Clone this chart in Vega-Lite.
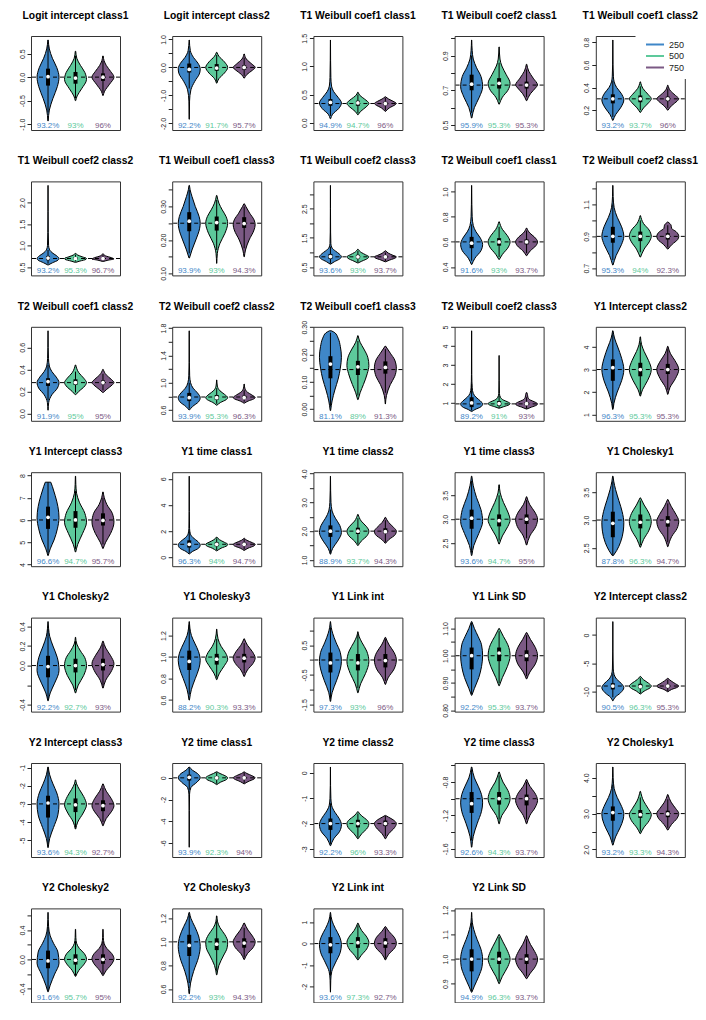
{
  "$schema": "https://vega.github.io/schema/vega-lite/v6.json",
  "padding": {"left": 17, "top": 10, "right": 0, "bottom": 0},
  "background": "white",
  "data": {
    "values": "k,p,n,y,d,lo,q1,md,q3,hi,lab\nt,1,,0\nv,1,250,-0.93,.02\nv,1,250,-0.7,.12\nv,1,250,-0.45,.45\nv,1,250,-0.2,.85\nv,1,250,0,1\nv,1,250,0.2,.8\nv,1,250,0.4,.4\nv,1,250,0.6,.12\nv,1,250,0.79,.02\ns,1,250,-1.04,,-0.75,-0.18,0.01,0.18,0.7,93.2%\nv,1,500,-0.5,.02\nv,1,500,-0.4,.15\nv,1,500,-0.25,.55\nv,1,500,-0.05,1\nv,1,500,0.1,.85\nv,1,500,0.25,.45\nv,1,500,0.4,.12\nv,1,500,0.55,.02\ns,1,500,-1.04,,-0.45,-0.14,-0.02,0.11,0.45,93%\nv,1,750,-0.39,.02\nv,1,750,-0.3,.15\nv,1,750,-0.15,.6\nv,1,750,0,1\nv,1,750,0.12,.7\nv,1,750,0.25,.3\nv,1,750,0.35,.1\nv,1,750,0.45,.02\ns,1,750,-1.04,,-0.33,-0.08,0,0.08,0.35,96%\nt,2,,0\nv,2,250,-1.85,.01\nv,2,250,-1.2,.03\nv,2,250,-0.8,.15\nv,2,250,-0.5,.5\nv,2,250,-0.2,.95\nv,2,250,-0.05,1\nv,2,250,0.15,.8\nv,2,250,0.35,.4\nv,2,250,0.6,.1\nv,2,250,0.98,.01\ns,2,250,-2.09,,-0.75,-0.18,-0.07,0.14,0.6,92.2%\nv,2,500,-0.56,.02\nv,2,500,-0.4,.2\nv,2,500,-0.2,.7\nv,2,500,0,1\nv,2,500,0.2,.7\nv,2,500,0.4,.2\nv,2,500,0.54,.02\ns,2,500,-2.09,,-0.5,-0.12,-0.02,0.12,0.45,91.7%\nv,2,750,-0.38,.02\nv,2,750,-0.25,.25\nv,2,750,-0.1,.75\nv,2,750,0,1\nv,2,750,0.12,.7\nv,2,750,0.3,.2\nv,2,750,0.48,.02\ns,2,750,-2.09,,-0.3,-0.08,0,0.08,0.35,95.7%\nt,3,,0.34\nv,3,250,0.07,.02\nv,3,250,0.15,.2\nv,3,250,0.25,.75\nv,3,250,0.35,1\nv,3,250,0.45,.7\nv,3,250,0.55,.3\nv,3,250,0.65,.1\nv,3,250,0.8,.04\nv,3,250,1.1,.015\nv,3,250,1.47,.005\ns,3,250,-0.06,,0.12,0.3,0.36,0.42,0.62,94.9%\nv,3,500,0.14,.02\nv,3,500,0.2,.25\nv,3,500,0.28,.75\nv,3,500,0.34,1\nv,3,500,0.42,.6\nv,3,500,0.48,.2\nv,3,500,0.54,.02\ns,3,500,-0.06,,0.17,0.3,0.35,0.39,0.5,94.7%\nv,3,750,0.2,.02\nv,3,750,0.26,.35\nv,3,750,0.32,.9\nv,3,750,0.34,1\nv,3,750,0.38,.7\nv,3,750,0.42,.3\nv,3,750,0.46,.02\ns,3,750,-0.06,,0.22,0.31,0.34,0.37,0.44,96%\nt,4,,0.73\nv,4,250,0.54,.02\nv,4,250,0.6,.25\nv,4,250,0.66,.7\nv,4,250,0.72,1\nv,4,250,0.78,.85\nv,4,250,0.83,.45\nv,4,250,0.88,.15\nv,4,250,0.93,.05\nv,4,250,0.99,.01\ns,4,250,0.494,,0.57,0.7,0.735,0.79,0.9,95.9%\nv,4,500,0.62,.02\nv,4,500,0.66,.3\nv,4,500,0.7,.8\nv,4,500,0.74,1\nv,4,500,0.79,.65\nv,4,500,0.84,.25\nv,4,500,0.88,.08\nv,4,500,0.95,.01\ns,4,500,0.494,,0.64,0.71,0.74,0.77,0.86,95.3%\nv,4,750,0.64,.02\nv,4,750,0.68,.35\nv,4,750,0.72,.9\nv,4,750,0.73,1\nv,4,750,0.77,.6\nv,4,750,0.81,.2\nv,4,750,0.85,.02\ns,4,750,0.494,,0.66,0.71,0.73,0.75,0.82,95.3%\nt,5,,0.3\nv,5,250,0.11,.02\nv,5,250,0.16,.25\nv,5,250,0.22,.7\nv,5,250,0.29,1\nv,5,250,0.35,.75\nv,5,250,0.4,.35\nv,5,250,0.45,.12\nv,5,250,0.5,.05\nv,5,250,0.6,.02\nv,5,250,0.82,.005\ns,5,250,0.06,,0.14,0.26,0.3,0.34,0.46,93.2%\nv,5,500,0.18,.02\nv,5,500,0.22,.3\nv,5,500,0.27,.8\nv,5,500,0.3,1\nv,5,500,0.34,.7\nv,5,500,0.39,.25\nv,5,500,0.45,.02\ns,5,500,0.06,,0.2,0.27,0.3,0.33,0.41,93.7%\nv,5,750,0.2,.02\nv,5,750,0.24,.35\nv,5,750,0.28,.85\nv,5,750,0.3,1\nv,5,750,0.33,.7\nv,5,750,0.37,.25\nv,5,750,0.42,.02\ns,5,750,0.06,,0.22,0.28,0.3,0.32,0.39,96%\nt,6,,0.7\nv,6,250,0.55,.02\nv,6,250,0.6,.4\nv,6,250,0.66,.9\nv,6,250,0.7,1\nv,6,250,0.76,.8\nv,6,250,0.82,.45\nv,6,250,0.9,.15\nv,6,250,1.0,.05\nv,6,250,1.3,.02\nv,6,250,1.8,.008\nv,6,250,2.4,.003\ns,6,250,0.4,,0.58,0.66,0.71,0.76,0.9,93.2%\nv,6,500,0.61,.02\nv,6,500,0.64,.4\nv,6,500,0.68,.95\nv,6,500,0.7,1\nv,6,500,0.74,.6\nv,6,500,0.78,.2\nv,6,500,0.82,.02\ns,6,500,0.4,,0.63,0.68,0.7,0.73,0.79,95.3%\nv,6,750,0.63,.02\nv,6,750,0.66,.45\nv,6,750,0.69,1\nv,6,750,0.72,.75\nv,6,750,0.76,.25\nv,6,750,0.81,.02\ns,6,750,0.4,,0.65,0.68,0.7,0.72,0.78,96.7%\nt,7,,0.25\nv,7,250,0.146,.02\nv,7,250,0.17,.25\nv,7,250,0.2,.6\nv,7,250,0.235,.95\nv,7,250,0.25,1\nv,7,250,0.27,.9\nv,7,250,0.3,.55\nv,7,250,0.33,.25\nv,7,250,0.35,.08\nv,7,250,0.363,.02\ns,7,250,0.106,,0.16,0.226,0.256,0.283,0.35,93.9%\nv,7,500,0.13,.01\nv,7,500,0.16,.06\nv,7,500,0.19,.3\nv,7,500,0.22,.75\nv,7,500,0.25,1\nv,7,500,0.27,.85\nv,7,500,0.29,.5\nv,7,500,0.31,.2\nv,7,500,0.333,.02\ns,7,500,0.106,,0.17,0.228,0.252,0.27,0.32,93%\nv,7,750,0.15,.02\nv,7,750,0.17,.12\nv,7,750,0.2,.45\nv,7,750,0.23,.9\nv,7,750,0.245,1\nv,7,750,0.26,.9\nv,7,750,0.28,.5\nv,7,750,0.3,.15\nv,7,750,0.308,.02\ns,7,750,0.106,,0.175,0.236,0.249,0.268,0.3,94.3%\nt,8,,0.85\nv,8,250,0.6,.02\nv,8,250,0.68,.35\nv,8,250,0.78,.85\nv,8,250,0.85,1\nv,8,250,0.95,.8\nv,8,250,1.05,.45\nv,8,250,1.15,.15\nv,8,250,1.3,.04\nv,8,250,1.7,.015\nv,8,250,2.5,.006\nv,8,250,3.3,.003\ns,8,250,0.35,,0.62,0.78,0.86,0.95,1.2,93.6%\nv,8,500,0.64,.02\nv,8,500,0.7,.35\nv,8,500,0.8,.9\nv,8,500,0.85,1\nv,8,500,0.92,.7\nv,8,500,1.0,.3\nv,8,500,1.11,.02\ns,8,500,0.35,,0.66,0.79,0.85,0.92,1.05,93%\nv,8,750,0.68,.02\nv,8,750,0.74,.4\nv,8,750,0.82,.95\nv,8,750,0.85,1\nv,8,750,0.9,.7\nv,8,750,0.97,.3\nv,8,750,1.06,.02\ns,8,750,0.35,,0.7,0.8,0.85,0.9,1.0,93.7%\nt,9,,0.6\nv,9,250,0.42,.02\nv,9,250,0.47,.3\nv,9,250,0.53,.85\nv,9,250,0.58,1\nv,9,250,0.63,.8\nv,9,250,0.68,.4\nv,9,250,0.73,.15\nv,9,250,0.8,.05\nv,9,250,0.9,.02\nv,9,250,1.05,.005\ns,9,250,0.365,,0.45,0.55,0.59,0.64,0.74,91.6%\nv,9,500,0.46,.02\nv,9,500,0.5,.3\nv,9,500,0.56,.85\nv,9,500,0.6,1\nv,9,500,0.65,.75\nv,9,500,0.7,.3\nv,9,500,0.76,.02\ns,9,500,0.365,,0.48,0.57,0.6,0.63,0.72,93%\nv,9,750,0.49,.02\nv,9,750,0.53,.35\nv,9,750,0.57,.85\nv,9,750,0.6,1\nv,9,750,0.64,.7\nv,9,750,0.67,.3\nv,9,750,0.71,.02\ns,9,750,0.365,,0.51,0.58,0.6,0.62,0.69,93.7%\nt,10,,0.9\nv,10,250,0.72,.02\nv,10,250,0.78,.3\nv,10,250,0.85,.8\nv,10,250,0.9,1\nv,10,250,0.96,.8\nv,10,250,1.02,.4\nv,10,250,1.08,.12\nv,10,250,1.15,.03\nv,10,250,1.22,.01\ns,10,250,0.68,,0.75,0.86,0.9,0.96,1.1,95.3%\nv,10,500,0.77,.02\nv,10,500,0.82,.35\nv,10,500,0.87,.85\nv,10,500,0.9,1\nv,10,500,0.94,.8\nv,10,500,0.98,.3\nv,10,500,1.03,.02\ns,10,500,0.68,,0.8,0.87,0.9,0.93,1.0,94%\nv,10,750,0.82,.02\nv,10,750,0.85,.4\nv,10,750,0.88,.9\nv,10,750,0.9,1\nv,10,750,0.93,.75\nv,10,750,0.95,.35\nv,10,750,0.97,.3\nv,10,750,0.99,.02\ns,10,750,0.68,,0.83,0.88,0.9,0.92,0.97,92.3%\nt,11,,0.28\nv,11,250,0.03,.01\nv,11,250,0.1,.06\nv,11,250,0.17,.35\nv,11,250,0.23,.85\nv,11,250,0.28,1\nv,11,250,0.33,.75\nv,11,250,0.38,.35\nv,11,250,0.43,.12\nv,11,250,0.5,.04\nv,11,250,0.6,.015\nv,11,250,0.75,.005\ns,11,250,-0.03,,0.12,0.25,0.29,0.32,0.44,91.9%\nv,11,500,0.17,.02\nv,11,500,0.2,.3\nv,11,500,0.25,.85\nv,11,500,0.28,1\nv,11,500,0.32,.75\nv,11,500,0.37,.3\nv,11,500,0.44,.02\ns,11,500,-0.03,,0.19,0.26,0.28,0.31,0.38,95%\nv,11,750,0.19,.02\nv,11,750,0.22,.35\nv,11,750,0.26,.85\nv,11,750,0.28,1\nv,11,750,0.31,.75\nv,11,750,0.35,.3\nv,11,750,0.4,.02\ns,11,750,-0.03,,0.21,0.265,0.28,0.3,0.36,95%\nt,12,,0.79\nv,12,250,0.6,.02\nv,12,250,0.65,.3\nv,12,250,0.72,.85\nv,12,250,0.78,1\nv,12,250,0.85,.75\nv,12,250,0.92,.35\nv,12,250,1.0,.12\nv,12,250,1.1,.04\nv,12,250,1.3,.015\nv,12,250,1.76,.004\ns,12,250,0.5,,0.62,0.73,0.78,0.85,1.0,93.9%\nv,12,500,0.67,.02\nv,12,500,0.71,.35\nv,12,500,0.75,.85\nv,12,500,0.78,1\nv,12,500,0.83,.7\nv,12,500,0.88,.3\nv,12,500,0.95,.06\nv,12,500,1.04,.01\ns,12,500,0.5,,0.69,0.75,0.78,0.82,0.92,95.3%\nv,12,750,0.7,.02\nv,12,750,0.73,.35\nv,12,750,0.76,.85\nv,12,750,0.78,1\nv,12,750,0.82,.7\nv,12,750,0.86,.3\nv,12,750,0.92,.06\nv,12,750,0.98,.01\ns,12,750,0.5,,0.72,0.76,0.78,0.81,0.89,96.3%\nt,13,,0.145\nv,13,250,-0.005,.02\nv,13,250,0.03,.15\nv,13,250,0.07,.4\nv,13,250,0.11,.7\nv,13,250,0.15,.9\nv,13,250,0.19,1\nv,13,250,0.23,.9\nv,13,250,0.26,.7\nv,13,250,0.28,.4\nv,13,250,0.287,.08\ns,13,250,-0.028,,0.01,0.113,0.165,0.194,0.28,81.1%\nv,13,500,0.035,.02\nv,13,500,0.06,.2\nv,13,500,0.09,.5\nv,13,500,0.13,.85\nv,13,500,0.16,1\nv,13,500,0.19,.9\nv,13,500,0.22,.55\nv,13,500,0.245,.2\nv,13,500,0.269,.02\ns,13,500,-0.028,,0.05,0.125,0.155,0.177,0.25,89%\nv,13,750,0.019,.01\nv,13,750,0.05,.1\nv,13,750,0.09,.45\nv,13,750,0.12,.85\nv,13,750,0.15,1\nv,13,750,0.18,.85\nv,13,750,0.205,.45\nv,13,750,0.231,.02\ns,13,750,-0.028,,0.06,0.13,0.153,0.175,0.22,91.3%\nt,14,,0.95\nv,14,250,0.55,.02\nv,14,250,0.65,.3\nv,14,250,0.8,.85\nv,14,250,0.95,1\nv,14,250,1.1,.8\nv,14,250,1.3,.4\nv,14,250,1.5,.15\nv,14,250,1.8,.05\nv,14,250,2.5,.015\nv,14,250,4.8,.004\ns,14,250,0.27,,0.6,0.78,1.0,1.3,2.0,89.2%\nv,14,500,0.72,.02\nv,14,500,0.8,.4\nv,14,500,0.9,.9\nv,14,500,0.97,1\nv,14,500,1.05,.8\nv,14,500,1.15,.4\nv,14,500,1.3,.12\nv,14,500,1.5,.03\nv,14,500,2.2,.01\nv,14,500,3.5,.004\ns,14,500,0.27,,0.73,0.85,0.97,1.1,1.4,91%\nv,14,750,0.68,.02\nv,14,750,0.78,.45\nv,14,750,0.88,.9\nv,14,750,0.95,1\nv,14,750,1.05,.75\nv,14,750,1.15,.35\nv,14,750,1.3,.12\nv,14,750,1.45,.08\nv,14,750,1.55,.02\ns,14,750,0.27,,0.7,0.88,0.96,1.05,1.3,93%\nt,15,,3\nv,15,250,1.23,.02\nv,15,250,1.5,.1\nv,15,250,2.0,.4\nv,15,250,2.5,.8\nv,15,250,3.0,1\nv,15,250,3.5,.8\nv,15,250,4.0,.45\nv,15,250,4.4,.15\nv,15,250,4.72,.02\ns,15,250,0.9,,1.3,2.5,3.08,3.45,4.6,96.3%\nv,15,500,1.82,.02\nv,15,500,2.1,.2\nv,15,500,2.5,.65\nv,15,500,3.0,1\nv,15,500,3.4,.75\nv,15,500,3.8,.35\nv,15,500,4.1,.12\nv,15,500,4.45,.02\ns,15,500,0.9,,1.9,2.7,3.0,3.3,4.2,95.3%\nv,15,750,1.9,.02\nv,15,750,2.2,.2\nv,15,750,2.6,.7\nv,15,750,3.0,1\nv,15,750,3.4,.65\nv,15,750,3.7,.25\nv,15,750,4.03,.02\ns,15,750,0.9,,2.1,2.8,3.0,3.25,3.9,95.3%\nt,16,,6\nv,16,250,4.4,.02\nv,16,250,4.7,.2\nv,16,250,5.1,.55\nv,16,250,5.6,.85\nv,16,250,6.1,1\nv,16,250,6.6,.9\nv,16,250,7.1,.65\nv,16,250,7.5,.4\nv,16,250,7.7,.25\ns,16,250,4.1,,4.5,5.6,6.12,6.6,7.7,96.6%\nv,16,500,4.56,.02\nv,16,500,4.9,.2\nv,16,500,5.4,.65\nv,16,500,5.9,1\nv,16,500,6.3,.85\nv,16,500,6.8,.35\nv,16,500,7.2,.1\nv,16,500,7.6,.03\nv,16,500,7.97,.01\ns,16,500,4.1,,4.7,5.65,6.0,6.4,7.3,94.7%\nv,16,750,4.72,.02\nv,16,750,5.0,.25\nv,16,750,5.4,.7\nv,16,750,5.9,1\nv,16,750,6.3,.85\nv,16,750,6.7,.35\nv,16,750,7.0,.12\nv,16,750,7.26,.02\ns,16,750,4.1,,4.9,5.75,5.98,6.3,7.0,95.7%\nt,17,,1\nv,17,250,0.26,.02\nv,17,250,0.45,.3\nv,17,250,0.7,.85\nv,17,250,0.95,1\nv,17,250,1.2,.8\nv,17,250,1.5,.35\nv,17,250,1.8,.1\nv,17,250,2.2,.03\nv,17,250,3.5,.01\nv,17,250,6.2,.003\ns,17,250,-0.37,,0.3,0.75,1.0,1.3,2.0,96.3%\nv,17,500,0.5,.02\nv,17,500,0.7,.4\nv,17,500,0.9,.95\nv,17,500,1.0,1\nv,17,500,1.15,.7\nv,17,500,1.35,.25\nv,17,500,1.55,.02\ns,17,500,-0.37,,0.55,0.85,1.0,1.15,1.45,94%\nv,17,750,0.53,.02\nv,17,750,0.7,.35\nv,17,750,0.88,.9\nv,17,750,1.0,1\nv,17,750,1.12,.75\nv,17,750,1.3,.25\nv,17,750,1.46,.02\ns,17,750,-0.37,,0.6,0.9,1.0,1.12,1.4,94.7%\nt,18,,2\nv,18,250,1.2,.02\nv,18,250,1.4,.2\nv,18,250,1.65,.65\nv,18,250,1.95,1\nv,18,250,2.2,.85\nv,18,250,2.45,.45\nv,18,250,2.7,.15\nv,18,250,3.0,.05\nv,18,250,3.4,.02\nv,18,250,3.91,.005\ns,18,250,0.92,,1.25,1.8,2.0,2.2,2.75,88.9%\nv,18,500,1.5,.02\nv,18,500,1.65,.3\nv,18,500,1.85,.85\nv,18,500,2.0,1\nv,18,500,2.15,.8\nv,18,500,2.35,.3\nv,18,500,2.58,.02\ns,18,500,0.92,,1.55,1.9,2.0,2.12,2.45,93.7%\nv,18,750,1.58,.02\nv,18,750,1.7,.3\nv,18,750,1.88,.9\nv,18,750,2.0,1\nv,18,750,2.13,.75\nv,18,750,2.3,.3\nv,18,750,2.48,.02\ns,18,750,0.92,,1.62,1.92,1.98,2.1,2.38,94.3%\nt,19,,3\nv,19,250,2.24,.02\nv,19,250,2.45,.2\nv,19,250,2.7,.65\nv,19,250,2.95,1\nv,19,250,3.2,.85\nv,19,250,3.45,.45\nv,19,250,3.7,.15\nv,19,250,3.9,.02\ns,19,250,2.1,,2.3,2.8,3.02,3.2,3.8,93.6%\nv,19,500,2.48,.02\nv,19,500,2.65,.3\nv,19,500,2.85,.8\nv,19,500,2.98,1\nv,19,500,3.15,.8\nv,19,500,3.35,.4\nv,19,500,3.55,.1\nv,19,500,3.72,.02\ns,19,500,2.1,,2.55,2.85,2.97,3.1,3.5,94.7%\nv,19,750,2.46,.02\nv,19,750,2.65,.3\nv,19,750,2.85,.85\nv,19,750,3.0,1\nv,19,750,3.15,.75\nv,19,750,3.3,.3\nv,19,750,3.47,.02\ns,19,750,2.1,,2.6,2.9,3.0,3.1,3.4,95%\nt,20,,3\nv,20,250,2.36,.05\nv,20,250,2.45,.35\nv,20,250,2.6,.7\nv,20,250,2.8,.95\nv,20,250,2.95,1\nv,20,250,3.15,.85\nv,20,250,3.35,.55\nv,20,250,3.55,.25\nv,20,250,3.7,.08\nv,20,250,3.79,.02\ns,20,250,2.24,,2.36,2.69,2.94,3.15,3.7,87.8%\nv,20,500,2.51,.02\nv,20,500,2.65,.3\nv,20,500,2.82,.8\nv,20,500,2.97,1\nv,20,500,3.12,.8\nv,20,500,3.27,.35\nv,20,500,3.4,.02\ns,20,500,2.24,,2.55,2.85,2.96,3.1,3.35,96.3%\nv,20,750,2.52,.02\nv,20,750,2.7,.35\nv,20,750,2.85,.85\nv,20,750,2.98,1\nv,20,750,3.1,.75\nv,20,750,3.25,.3\nv,20,750,3.37,.02\ns,20,750,2.24,,2.6,2.88,2.97,3.07,3.3,94.7%\nt,21,,0\nv,21,250,-0.36,.02\nv,21,250,-0.28,.2\nv,21,250,-0.18,.6\nv,21,250,-0.05,1\nv,21,250,0.08,.85\nv,21,250,0.2,.45\nv,21,250,0.3,.15\nv,21,250,0.38,.05\nv,21,250,0.45,.01\ns,21,250,-0.43,,-0.34,-0.12,-0.01,0.1,0.4,92.2%\nv,21,500,-0.28,.02\nv,21,500,-0.2,.25\nv,21,500,-0.1,.75\nv,21,500,0,1\nv,21,500,0.08,.85\nv,21,500,0.15,.45\nv,21,500,0.22,.12\nv,21,500,0.29,.01\ns,21,500,-0.43,,-0.25,-0.07,0,0.07,0.25,92.7%\nv,21,750,-0.23,.02\nv,21,750,-0.15,.25\nv,21,750,-0.05,.8\nv,21,750,0.02,1\nv,21,750,0.1,.7\nv,21,750,0.18,.25\nv,21,750,0.25,.02\ns,21,750,-0.43,,-0.2,-0.05,0.01,0.07,0.22,93%\nt,22,,1\nv,22,250,0.6,.02\nv,22,250,0.7,.2\nv,22,250,0.8,.55\nv,22,250,0.9,.9\nv,22,250,0.97,1\nv,22,250,1.05,.85\nv,22,250,1.13,.5\nv,22,250,1.2,.2\nv,22,250,1.27,.06\nv,22,250,1.33,.01\ns,22,250,0.53,,0.65,0.88,0.96,1.06,1.3,88.2%\nv,22,500,0.79,.02\nv,22,500,0.85,.25\nv,22,500,0.92,.7\nv,22,500,0.98,1\nv,22,500,1.04,.8\nv,22,500,1.1,.4\nv,22,500,1.17,.12\nv,22,500,1.26,.01\ns,22,500,0.53,,0.81,0.93,0.98,1.03,1.17,90.3%\nv,22,750,0.82,.02\nv,22,750,0.88,.3\nv,22,750,0.94,.8\nv,22,750,0.99,1\nv,22,750,1.05,.75\nv,22,750,1.11,.3\nv,22,750,1.17,.02\ns,22,750,0.53,,0.85,0.95,0.99,1.03,1.13,93.3%\nt,23,,0\nv,23,250,-1.39,.02\nv,23,250,-1.1,.15\nv,23,250,-0.7,.55\nv,23,250,-0.3,.9\nv,23,250,-0.05,1\nv,23,250,0.25,.9\nv,23,250,0.6,.5\nv,23,250,0.9,.2\nv,23,250,1.1,.07\nv,23,250,1.29,.01\ns,23,250,-1.6,,-1.3,-0.42,-0.1,0.25,1.1,97.3%\nv,23,500,-1.1,.02\nv,23,500,-0.8,.25\nv,23,500,-0.45,.7\nv,23,500,-0.05,1\nv,23,500,0.3,.8\nv,23,500,0.6,.35\nv,23,500,0.8,.1\nv,23,500,0.95,.01\ns,23,500,-1.6,,-0.95,-0.35,-0.1,0.2,0.85,93%\nv,23,750,-0.82,.02\nv,23,750,-0.6,.25\nv,23,750,-0.3,.8\nv,23,750,0,1\nv,23,750,0.25,.8\nv,23,750,0.5,.35\nv,23,750,0.76,.02\ns,23,750,-1.6,,-0.7,-0.25,-0.02,0.2,0.7,96%\nt,24,,1\nv,24,250,0.855,.02\nv,24,250,0.88,.25\nv,24,250,0.92,.65\nv,24,250,0.96,.9\nv,24,250,1.0,1\nv,24,250,1.04,.9\nv,24,250,1.07,.6\nv,24,250,1.1,.25\nv,24,250,1.125,.02\ns,24,250,0.81,,0.86,0.95,1.0,1.03,1.12,92.2%\nv,24,500,0.89,.02\nv,24,500,0.92,.3\nv,24,500,0.96,.75\nv,24,500,1.0,1\nv,24,500,1.04,.8\nv,24,500,1.07,.4\nv,24,500,1.1,.02\ns,24,500,0.81,,0.9,0.98,1.01,1.03,1.09,95.3%\nv,24,750,0.915,.02\nv,24,750,0.94,.3\nv,24,750,0.97,.8\nv,24,750,1.0,1\nv,24,750,1.03,.8\nv,24,750,1.06,.35\nv,24,750,1.085,.02\ns,24,750,0.81,,0.925,0.98,1.0,1.02,1.075,93.7%\nt,25,,-9\nv,25,250,-11.6,.02\nv,25,250,-11,.2\nv,25,250,-10.2,.7\nv,25,250,-9.3,1\nv,25,250,-8.6,.8\nv,25,250,-7.8,.35\nv,25,250,-7,.12\nv,25,250,-6,.04\nv,25,250,-3,.01\nv,25,250,2.35,.003\ns,25,250,-12.8,,-11,-9.6,-9,-8.5,-6.8,90.5%\nv,25,500,-10.4,.02\nv,25,500,-9.9,.35\nv,25,500,-9.3,.9\nv,25,500,-9,1\nv,25,500,-8.5,.75\nv,25,500,-7.9,.3\nv,25,500,-7.3,.02\ns,25,500,-12.8,,-10.3,-9.4,-9.1,-8.6,-7.6,96.3%\nv,25,750,-10,.02\nv,25,750,-9.6,.35\nv,25,750,-9.2,.9\nv,25,750,-9,1\nv,25,750,-8.6,.7\nv,25,750,-8.1,.3\nv,25,750,-7.65,.02\ns,25,750,-12.8,,-9.9,-9.3,-9,-8.75,-7.9,95.3%\nt,26,,-3\nv,26,250,-5.4,.02\nv,26,250,-4.9,.15\nv,26,250,-4.3,.5\nv,26,250,-3.6,.9\nv,26,250,-3,1\nv,26,250,-2.4,.8\nv,26,250,-1.9,.45\nv,26,250,-1.4,.15\nv,26,250,-0.97,.02\ns,26,250,-5.7,,-5.2,-3.75,-2.95,-2.55,-1.1,93.6%\nv,26,500,-4.38,.02\nv,26,500,-4,.2\nv,26,500,-3.5,.7\nv,26,500,-3.05,1\nv,26,500,-2.6,.75\nv,26,500,-2.2,.35\nv,26,500,-1.9,.1\nv,26,500,-1.68,.02\ns,26,500,-5.7,,-4.3,-3.45,-3.05,-2.7,-1.9,94.3%\nv,26,750,-4.2,.02\nv,26,750,-3.8,.3\nv,26,750,-3.4,.8\nv,26,750,-3.1,1\nv,26,750,-2.7,.75\nv,26,750,-2.3,.3\nv,26,750,-1.9,.02\ns,26,750,-5.7,,-4,-3.4,-3.1,-2.8,-2.1,92.7%\nt,27,,0\nv,27,250,-6.4,.003\nv,27,250,-3,.01\nv,27,250,-1.5,.03\nv,27,250,-0.9,.15\nv,27,250,-0.4,.7\nv,27,250,0,1\nv,27,250,0.4,.75\nv,27,250,0.7,.3\nv,27,250,1.0,.02\ns,27,250,-6.93,,-1.1,-0.25,0.05,0.3,0.95,93.9%\nv,27,500,-0.62,.02\nv,27,500,-0.4,.35\nv,27,500,-0.15,.9\nv,27,500,0,1\nv,27,500,0.2,.75\nv,27,500,0.4,.3\nv,27,500,0.56,.02\ns,27,500,-6.93,,-0.55,-0.15,0,0.15,0.5,92.3%\nv,27,750,-0.55,.02\nv,27,750,-0.35,.35\nv,27,750,-0.1,.9\nv,27,750,0,1\nv,27,750,0.2,.7\nv,27,750,0.4,.25\nv,27,750,0.55,.02\ns,27,750,-6.93,,-0.5,-0.12,0,0.12,0.5,94%\nt,28,,-2\nv,28,250,-2.87,.02\nv,28,250,-2.6,.3\nv,28,250,-2.3,.85\nv,28,250,-2.05,1\nv,28,250,-1.8,.8\nv,28,250,-1.55,.4\nv,28,250,-1.3,.12\nv,28,250,-1.0,.04\nv,28,250,-0.5,.012\nv,28,250,0.23,.004\ns,28,250,-3.16,,-2.8,-2.25,-2.0,-1.8,-1.2,92.2%\nv,28,500,-2.6,.02\nv,28,500,-2.4,.35\nv,28,500,-2.15,.9\nv,28,500,-2,1\nv,28,500,-1.85,.8\nv,28,500,-1.7,.35\nv,28,500,-1.53,.02\ns,28,500,-3.16,,-2.55,-2.15,-2,-1.85,-1.6,96%\nv,28,750,-2.6,.02\nv,28,750,-2.4,.3\nv,28,750,-2.15,.85\nv,28,750,-2,1\nv,28,750,-1.85,.7\nv,28,750,-1.75,.3\nv,28,750,-1.68,.02\ns,28,750,-3.16,,-2.5,-2.1,-2,-1.88,-1.7,93.3%\nt,29,,-1\nv,29,250,-1.58,.02\nv,29,250,-1.45,.15\nv,29,250,-1.3,.5\nv,29,250,-1.15,.9\nv,29,250,-1.05,1\nv,29,250,-0.95,.9\nv,29,250,-0.85,.6\nv,29,250,-0.75,.25\nv,29,250,-0.62,.02\ns,29,250,-1.65,,-1.5,-1.17,-1.06,-0.92,-0.65,92.6%\nv,29,500,-1.3,.02\nv,29,500,-1.2,.25\nv,29,500,-1.1,.75\nv,29,500,-1,1\nv,29,500,-0.9,.8\nv,29,500,-0.8,.35\nv,29,500,-0.68,.02\ns,29,500,-1.65,,-1.25,-1.07,-1,-0.92,-0.72,94.3%\nv,29,750,-1.3,.02\nv,29,750,-1.2,.3\nv,29,750,-1.1,.8\nv,29,750,-1.02,1\nv,29,750,-0.93,.75\nv,29,750,-0.85,.3\nv,29,750,-0.77,.02\ns,29,750,-1.65,,-1.25,-1.08,-1,-0.95,-0.8,93.7%\nt,30,,3\nv,30,250,2.12,.02\nv,30,250,2.35,.25\nv,30,250,2.6,.65\nv,30,250,2.85,.95\nv,30,250,3.0,1\nv,30,250,3.2,.8\nv,30,250,3.45,.4\nv,30,250,3.7,.12\nv,30,250,4.0,.03\nv,30,250,4.3,.01\ns,30,250,1.9,,2.2,2.8,3.03,3.2,3.8,93.2%\nv,30,500,2.44,.02\nv,30,500,2.6,.3\nv,30,500,2.8,.8\nv,30,500,2.97,1\nv,30,500,3.15,.7\nv,30,500,3.35,.3\nv,30,500,3.62,.02\ns,30,500,1.9,,2.5,2.88,2.97,3.1,3.45,93.3%\nv,30,750,2.54,.02\nv,30,750,2.7,.35\nv,30,750,2.87,.85\nv,30,750,3.0,1\nv,30,750,3.15,.7\nv,30,750,3.32,.3\nv,30,750,3.53,.02\ns,30,750,1.9,,2.6,2.9,2.99,3.08,3.4,94.3%\nt,31,,0\nv,31,250,-0.44,.02\nv,31,250,-0.35,.2\nv,31,250,-0.2,.6\nv,31,250,-0.05,1\nv,31,250,0.1,.9\nv,31,250,0.22,.5\nv,31,250,0.32,.2\nv,31,250,0.45,.05\nv,31,250,0.64,.01\ns,31,250,-0.53,,-0.42,-0.12,-0.02,0.12,0.45,91.6%\nv,31,500,-0.23,.02\nv,31,500,-0.15,.3\nv,31,500,-0.05,.85\nv,31,500,0,1\nv,31,500,0.08,.8\nv,31,500,0.15,.35\nv,31,500,0.22,.1\nv,31,500,0.3,.03\nv,31,500,0.41,.01\ns,31,500,-0.53,,-0.22,-0.07,-0.01,0.07,0.25,95.7%\nv,31,750,-0.22,.02\nv,31,750,-0.15,.3\nv,31,750,-0.05,.85\nv,31,750,0.01,1\nv,31,750,0.08,.8\nv,31,750,0.15,.35\nv,31,750,0.22,.1\nv,31,750,0.3,.03\nv,31,750,0.41,.01\ns,31,750,-0.53,,-0.2,-0.06,0,0.07,0.24,95%\nt,32,,1\nv,32,250,0.56,.02\nv,32,250,0.65,.12\nv,32,250,0.75,.4\nv,32,250,0.87,.85\nv,32,250,0.96,1\nv,32,250,1.05,.85\nv,32,250,1.13,.5\nv,32,250,1.2,.15\nv,32,250,1.25,.02\ns,32,250,0.52,,0.65,0.88,0.97,1.06,1.23,92.2%\nv,32,500,0.72,.02\nv,32,500,0.8,.2\nv,32,500,0.88,.6\nv,32,500,0.95,.95\nv,32,500,1.0,1\nv,32,500,1.06,.75\nv,32,500,1.12,.3\nv,32,500,1.17,.08\nv,32,500,1.22,.02\ns,32,500,0.52,,0.75,0.93,0.98,1.03,1.18,93%\nv,32,750,0.85,.02\nv,32,750,0.9,.3\nv,32,750,0.95,.8\nv,32,750,1.0,1\nv,32,750,1.05,.75\nv,32,750,1.1,.35\nv,32,750,1.16,.02\ns,32,750,0.52,,0.87,0.95,0.99,1.03,1.12,94.3%\nt,33,,0\nv,33,250,-2.26,.005\nv,33,250,-1.7,.03\nv,33,250,-1.3,.12\nv,33,250,-0.9,.45\nv,33,250,-0.4,.9\nv,33,250,-0.05,1\nv,33,250,0.3,.85\nv,33,250,0.7,.45\nv,33,250,1.05,.15\nv,33,250,1.45,.01\ns,33,250,-2.55,,-1.5,-0.45,-0.06,0.3,1.3,93.6%\nv,33,500,-0.76,.02\nv,33,500,-0.55,.3\nv,33,500,-0.25,.8\nv,33,500,0.05,1\nv,33,500,0.35,.75\nv,33,500,0.6,.35\nv,33,500,0.95,.02\ns,33,500,-2.55,,-0.7,-0.2,0.04,0.3,0.85,97.3%\nv,33,750,-0.76,.02\nv,33,750,-0.5,.3\nv,33,750,-0.2,.85\nv,33,750,0,1\nv,33,750,0.3,.8\nv,33,750,0.55,.35\nv,33,750,0.79,.02\ns,33,750,-2.55,,-0.7,-0.2,0.03,0.25,0.7,92.7%\nt,34,,1\nv,34,250,0.865,.02\nv,34,250,0.89,.25\nv,34,250,0.93,.65\nv,34,250,0.97,.95\nv,34,250,1.0,1\nv,34,250,1.04,.85\nv,34,250,1.08,.5\nv,34,250,1.12,.2\nv,34,250,1.15,.06\nv,34,250,1.19,.01\ns,34,250,0.84,,0.87,0.95,1.0,1.04,1.15,94.9%\nv,34,500,0.9,.02\nv,34,500,0.93,.3\nv,34,500,0.97,.8\nv,34,500,1,1\nv,34,500,1.03,.8\nv,34,500,1.07,.35\nv,34,500,1.1,.02\ns,34,500,0.84,,0.91,0.98,1.0,1.03,1.09,96.3%\nv,34,750,0.92,.02\nv,34,750,0.94,.3\nv,34,750,0.97,.8\nv,34,750,1,1\nv,34,750,1.03,.75\nv,34,750,1.06,.35\nv,34,750,1.095,.02\ns,34,750,0.84,,0.93,0.98,1.0,1.02,1.08,93.7%",
    "format": {
      "type": "csv",
      "parse": {"p": "number", "n": "number", "y": "number", "d": "number", "lo": "number", "q1": "number", "md": "number", "q3": "number", "hi": "number"}
    }
  },
  "transform": [
    {"calculate": "datum.n / 250", "as": "g"},
    {"calculate": "datum.g - 0.4 * datum.d", "as": "xl"},
    {"calculate": "datum.g + 0.4 * datum.d", "as": "xr"}
  ],
  "facet": {
    "field": "p",
    "type": "ordinal",
    "header": {
      "title": null,
      "labelExpr": "['Logit intercept class1','Logit intercept class2','T1 Weibull coef1 class1','T1 Weibull coef2 class1','T1 Weibull coef1 class2','T1 Weibull coef2 class2','T1 Weibull coef1 class3','T1 Weibull coef2 class3','T2 Weibull coef1 class1','T2 Weibull coef2 class1','T2 Weibull coef1 class2','T2 Weibull coef2 class2','T2 Weibull coef1 class3','T2 Weibull coef2 class3','Y1 Intercept class2','Y1 Intercept class3','Y1 time class1','Y1 time class2','Y1 time class3','Y1 Cholesky1','Y1 Cholesky2','Y1 Cholesky3','Y1 Link int','Y1 Link SD','Y2 Intercept class2','Y2 Intercept class3','Y2 time class1','Y2 time class2','Y2 time class3','Y2 Cholesky1','Y2 Cholesky2','Y2 Cholesky3','Y2 Link int','Y2 Link SD'][datum.value - 1]",
      "labelFont": "Liberation Sans",
      "labelFontSize": 10.3,
      "labelFontWeight": "bold",
      "labelColor": "black",
      "labelPadding": 7
    }
  },
  "columns": 5,
  "bounds": "flush",
  "spacing": {"column": 52.2, "row": 51.4},
  "resolve": {"scale": {"y": "independent"}},
  "spec": {
    "width": 89,
    "height": 94,
    "layer": [
      {
        "transform": [{"filter": "datum.k == 'v'"}],
        "mark": {"type": "area", "orient": "horizontal", "interpolate": "monotone", "stroke": "black", "strokeWidth": 1, "opacity": 1},
        "encoding": {
          "y": {
            "field": "y", "type": "quantitative",
            "scale": {"zero": false, "nice": false, "padding": 4},
            "axis": {
              "title": "y", "titleOpacity": 0, "titleX": 0, "titleY": -8, "titleAngle": 0,
              "titleBaseline": "top", "titleAlign": "left", "titleFontSize": 6, "titlePadding": 0,
              "grid": false, "domain": false, "tickSize": 4, "tickColor": "#222",
              "labelAngle": 270, "labelFont": "Liberation Sans", "labelFontSize": 7, "labelColor": "#222",
              "labelPadding": 2, "tickCount": 5, "labelOverlap": "greedy", "labelSeparation": 8.4,
              "labelExpr": "replace(datum.label, '−', '-')"
            }
          },
          "x": {"field": "xl", "type": "quantitative", "stack": null, "scale": {"domain": [0.38, 3.62]}, "axis": null},
          "x2": {"field": "xr"},
          "color": {
            "field": "n", "type": "nominal",
            "scale": {"domain": [250, 500, 750], "range": ["#3F87C8", "#5DC99B", "#7B5984"]},
            "legend": {
              "title": null, "orient": "none", "legendX": 604.5, "legendY": -2,
              "symbolType": "M0,-0.4H7.2V0.4H0Z", "symbolSize": 25, "symbolStrokeWidth": 0, "symbolOpacity": 1,
              "labelFont": "Liberation Sans", "labelFontSize": 9, "labelColor": "#222",
              "fillColor": "white", "padding": 6, "rowPadding": 1.5, "labelOffset": 18.5
            }
          }
        }
      },
      {
        "transform": [{"filter": "datum.k == 's'"}],
        "mark": {"type": "rule", "color": "black", "strokeWidth": 1},
        "encoding": {
          "x": {"field": "g", "type": "quantitative", "scale": {"domain": [0.38, 3.62]}, "axis": null},
          "y": {"field": "lo", "type": "quantitative", "scale": {"zero": false, "nice": false, "padding": 4}},
          "y2": {"field": "hi"}
        }
      },
      {
        "transform": [{"filter": "datum.k == 's'"}],
        "mark": {"type": "rule", "color": "black", "strokeWidth": 4, "strokeCap": "butt"},
        "encoding": {
          "x": {"field": "g", "type": "quantitative", "scale": {"domain": [0.38, 3.62]}, "axis": null},
          "y": {"field": "q1", "type": "quantitative", "scale": {"zero": false, "nice": false, "padding": 4}},
          "y2": {"field": "q3"}
        }
      },
      {
        "transform": [{"filter": "datum.k == 't'"}],
        "mark": {"type": "rule", "color": "black", "strokeWidth": 1, "strokeDash": [4, 3]},
        "encoding": {
          "y": {"field": "y", "type": "quantitative", "scale": {"zero": false, "nice": false, "padding": 4}}
        }
      },
      {
        "transform": [{"filter": "datum.k == 's'"}],
        "mark": {"type": "point", "filled": true, "color": "white", "size": 14, "opacity": 1},
        "encoding": {
          "x": {"field": "g", "type": "quantitative", "scale": {"domain": [0.38, 3.62]}, "axis": null},
          "y": {"field": "md", "type": "quantitative", "scale": {"zero": false, "nice": false, "padding": 4}}
        }
      },
      {
        "transform": [{"filter": "datum.k == 's'"}],
        "mark": {"type": "text", "font": "Liberation Sans", "fontSize": 8, "baseline": "middle"},
        "encoding": {
          "x": {"field": "g", "type": "quantitative", "scale": {"domain": [0.38, 3.62]}, "axis": null},
          "y": {"field": "y", "type": "quantitative", "scale": {"zero": false, "nice": false, "padding": 4}},
          "text": {"field": "lab"},
          "color": {"field": "n", "type": "nominal"}
        }
      }
    ]
  },
  "config": {
    "font": "Liberation Sans",
    "view": {"stroke": "#333", "strokeWidth": 1}
  }
}
